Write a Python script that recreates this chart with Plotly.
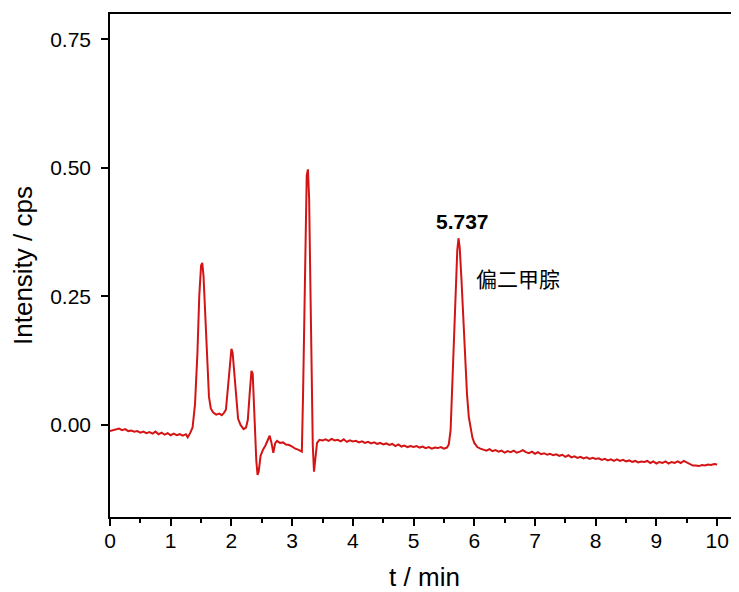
import plotly.graph_objects as go

time_min = [
    0.00, 0.05, 0.10, 0.15, 0.20, 0.25, 0.30, 0.35, 0.40, 0.45, 0.50, 0.55, 0.60, 0.65, 0.70, 0.75,
    0.80, 0.85, 0.90, 0.95, 1.00, 1.05, 1.10, 1.15, 1.20, 1.25, 1.28, 1.32, 1.36, 1.40, 1.44, 1.47,
    1.50, 1.52, 1.54, 1.57, 1.60, 1.63, 1.66, 1.70, 1.75, 1.80, 1.84, 1.88, 1.91, 1.94, 1.97, 2.00,
    2.02, 2.05, 2.08, 2.11, 2.15, 2.20, 2.24, 2.27, 2.30, 2.33, 2.35, 2.37, 2.39, 2.41, 2.43, 2.45,
    2.48, 2.52, 2.56, 2.60, 2.63, 2.66, 2.69, 2.72, 2.75, 2.80, 2.85, 2.90, 2.95, 3.00, 3.05, 3.10,
    3.13, 3.16, 3.18, 3.20, 3.22, 3.24, 3.26, 3.28, 3.30, 3.32, 3.34, 3.36, 3.38, 3.41, 3.45, 3.50,
    3.55, 3.60, 3.65, 3.70, 3.75, 3.80, 3.85, 3.90, 3.95, 4.00, 4.05, 4.10, 4.15, 4.20, 4.25, 4.30,
    4.35, 4.40, 4.45, 4.50, 4.55, 4.60, 4.65, 4.70, 4.75, 4.80, 4.85, 4.90, 4.95, 5.00, 5.05, 5.10,
    5.15, 5.20, 5.25, 5.30, 5.35, 5.40, 5.45, 5.50, 5.55, 5.58, 5.61, 5.64, 5.67, 5.70, 5.72, 5.74,
    5.76, 5.79, 5.82, 5.85, 5.88, 5.91, 5.94, 5.97, 6.00, 6.05, 6.10, 6.15, 6.20, 6.25, 6.30, 6.35,
    6.40, 6.45, 6.50, 6.55, 6.60, 6.65, 6.70, 6.75, 6.80, 6.85, 6.90, 6.95, 7.00, 7.05, 7.10, 7.15,
    7.20, 7.25, 7.30, 7.35, 7.40, 7.45, 7.50, 7.55, 7.60, 7.65, 7.70, 7.75, 7.80, 7.85, 7.90, 7.95,
    8.00, 8.05, 8.10, 8.15, 8.20, 8.25, 8.30, 8.35, 8.40, 8.45, 8.50, 8.55, 8.60, 8.65, 8.70, 8.75,
    8.80, 8.85, 8.90, 8.95, 9.00, 9.05, 9.10, 9.15, 9.20, 9.25, 9.30, 9.35, 9.40, 9.45, 9.50, 9.55,
    9.60, 9.65, 9.70, 9.75, 9.80, 9.85, 9.90, 9.95, 10.00,
]

intensity_cps = [
    -0.012, -0.010, -0.009, -0.007, -0.010, -0.008, -0.012, -0.011, -0.013, -0.012, -0.015, -0.013, -0.016, -0.014, -0.017, -0.013,
    -0.018, -0.015, -0.019, -0.016, -0.020, -0.017, -0.020, -0.018, -0.021, -0.018, -0.024, -0.016, -0.005, 0.040, 0.140, 0.250,
    0.310, 0.315, 0.290, 0.210, 0.110, 0.055, 0.032, 0.024, 0.020, 0.022, 0.019, 0.024, 0.030, 0.070, 0.120, 0.148,
    0.140, 0.095, 0.040, 0.012, 0.000, -0.008, -0.005, 0.010, 0.060, 0.105, 0.100, 0.040, -0.020, -0.070, -0.097, -0.090,
    -0.060, -0.048, -0.040, -0.030, -0.021, -0.035, -0.054, -0.036, -0.031, -0.035, -0.034, -0.038, -0.039, -0.042, -0.046, -0.048,
    -0.050, -0.052, 0.060, 0.200, 0.400, 0.485, 0.497, 0.440, 0.275, 0.090, -0.040, -0.091, -0.070, -0.035, -0.029, -0.030,
    -0.028, -0.031, -0.027, -0.030, -0.029, -0.032, -0.028, -0.033, -0.030, -0.032, -0.031, -0.034, -0.032, -0.035, -0.033, -0.036,
    -0.034, -0.037, -0.035, -0.038, -0.036, -0.039, -0.037, -0.041, -0.038, -0.042, -0.040, -0.043, -0.041, -0.043, -0.041, -0.044,
    -0.042, -0.045, -0.043, -0.046, -0.044, -0.045, -0.043, -0.046, -0.044, -0.038, -0.010, 0.080, 0.180, 0.280, 0.340, 0.363,
    0.345, 0.280, 0.200, 0.120, 0.060, 0.015, -0.010, -0.025, -0.035, -0.043, -0.046, -0.048, -0.050, -0.047, -0.051, -0.049,
    -0.052, -0.050, -0.054, -0.051, -0.053, -0.050, -0.054, -0.052, -0.049, -0.053, -0.055, -0.052, -0.056, -0.053, -0.057, -0.055,
    -0.058, -0.056, -0.059, -0.057, -0.060, -0.058, -0.062, -0.059, -0.063, -0.061, -0.064, -0.062, -0.065, -0.063, -0.066, -0.064,
    -0.066, -0.065, -0.068, -0.066, -0.069, -0.067, -0.070, -0.067, -0.070, -0.068, -0.071, -0.069, -0.072, -0.070, -0.073, -0.071,
    -0.072, -0.070, -0.074, -0.071, -0.075, -0.072, -0.074, -0.071, -0.075, -0.072, -0.074, -0.071, -0.074, -0.070, -0.073, -0.077,
    -0.079, -0.079, -0.080, -0.078, -0.079, -0.077, -0.078, -0.076, -0.077,
]

x_ticks = [0, 1, 2, 3, 4, 5, 6, 7, 8, 9, 10]
y_ticks = [0.00, 0.25, 0.50, 0.75]
y_tick_labels = ["0.00", "0.25", "0.50", "0.75"]

peak_time_label = "5.737"
compound_label = "偏二甲腙"

fig = go.Figure()
fig.add_trace(go.Scatter(
    x=time_min, y=intensity_cps, mode="lines",
    line=dict(color="#d41414", width=2),
    showlegend=False, hoverinfo="skip",
))

font_main = "Liberation Sans, Arial, sans-serif"

fig.add_annotation(x=5.81, y=0.395, text="<b>" + peak_time_label + "</b>", showarrow=False,
                   font=dict(family=font_main, size=21, color="black"))
fig.add_annotation(x=6.72, y=0.285, text=compound_label, showarrow=False,
                   font=dict(family="Noto Sans CJK SC, sans-serif", size=21, color="black"))

# page body has an 8px default margin, so the figure is sized/offset to compensate
fig.update_layout(
    width=731, height=584,
    margin=dict(l=102, r=0, t=6, b=75),
    paper_bgcolor="white", plot_bgcolor="white",
    font=dict(family=font_main, size=21, color="black"),
    xaxis=dict(
        range=[0, 10.36], tickmode="array", tickvals=x_ticks,
        showline=True, linecolor="black", linewidth=1.5, mirror=True,
        ticks="outside", ticklen=7, tickwidth=1.5, tickcolor="black",
        minor=dict(dtick=0.5, ticks="outside", ticklen=4, tickwidth=1.5, tickcolor="black"),
        showgrid=False, zeroline=False, automargin=False,
        title=dict(text="t / min", font=dict(size=26), standoff=19),
        tickfont=dict(size=21), ticklabelstandoff=-3,
    ),
    yaxis=dict(
        range=[-0.179, 0.799], tickmode="array", tickvals=y_ticks, ticktext=y_tick_labels,
        showline=True, linecolor="black", linewidth=1.5, mirror=False,
        ticks="outside", ticklen=7, tickwidth=1.5, tickcolor="black",
        showgrid=False, zeroline=False, automargin=False,
        title=dict(text="Intensity / cps", font=dict(size=26), standoff=14),
        tickfont=dict(size=21), ticklabelstandoff=6,
    ),
)

fig.write_html("out.html")
